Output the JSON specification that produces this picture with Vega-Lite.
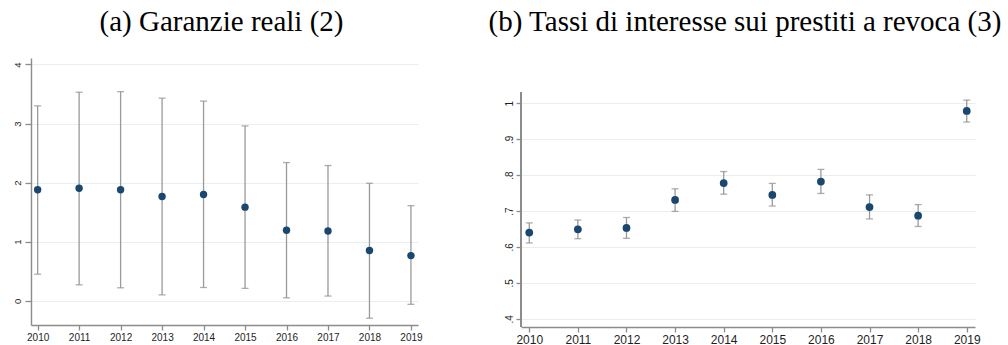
{
  "$schema": "https://vega.github.io/schema/vega-lite/v6.json",
  "background": "white",
  "padding": {"left": 12, "top": 8, "right": 5, "bottom": 0},
  "spacing": 65,
  "align": "each",
  "config": {
    "view": {"stroke": null},
    "title": {"font": "Liberation Serif", "fontSize": 29, "fontWeight": "normal", "color": "#000000", "baseline": "alphabetic", "anchor": "middle", "dx": -3},
    "axis": {
      "domainColor": "#8c8c8c", "domainWidth": 1.4,
      "tickColor": "#8c8c8c", "tickWidth": 1.3, "tickSize": 5,
      "labelColor": "#1e1e1e", "labelFont": "Liberation Sans",
      "grid": false
    }
  },
  "datasets": {
    "a": [
      {"year": 2010, "est": 1.88, "lo": 0.45, "hi": 3.30},
      {"year": 2011, "est": 1.905, "lo": 0.27, "hi": 3.53},
      {"year": 2012, "est": 1.88, "lo": 0.22, "hi": 3.54},
      {"year": 2013, "est": 1.765, "lo": 0.10, "hi": 3.43},
      {"year": 2014, "est": 1.80, "lo": 0.225, "hi": 3.38},
      {"year": 2015, "est": 1.585, "lo": 0.21, "hi": 2.96},
      {"year": 2016, "est": 1.195, "lo": 0.05, "hi": 2.34},
      {"year": 2017, "est": 1.18, "lo": 0.08, "hi": 2.29},
      {"year": 2018, "est": 0.85, "lo": -0.295, "hi": 1.99},
      {"year": 2019, "est": 0.765, "lo": -0.06, "hi": 1.61}
    ],
    "b": [
      {"year": 2010, "est": 0.640, "lo": 0.611, "hi": 0.667},
      {"year": 2011, "est": 0.649, "lo": 0.623, "hi": 0.675},
      {"year": 2012, "est": 0.653, "lo": 0.624, "hi": 0.682},
      {"year": 2013, "est": 0.731, "lo": 0.699, "hi": 0.762},
      {"year": 2014, "est": 0.778, "lo": 0.747, "hi": 0.810},
      {"year": 2015, "est": 0.745, "lo": 0.714, "hi": 0.777},
      {"year": 2016, "est": 0.782, "lo": 0.749, "hi": 0.816},
      {"year": 2017, "est": 0.711, "lo": 0.678, "hi": 0.745},
      {"year": 2018, "est": 0.687, "lo": 0.657, "hi": 0.718},
      {"year": 2019, "est": 0.979, "lo": 0.948, "hi": 1.009}
    ]
  },
  "hconcat": [
    {
      "width": 387, "height": 267,
      "title": {"text": "(a) Garanzie reali (2)", "offset": 21},
      "data": {"name": "a"},
      "encoding": {
        "x": {"field": "year", "type": "quantitative", "title": null,
              "scale": {"domain": [2009.84, 2019.17], "nice": false, "zero": false},
              "axis": {"values": [2010, 2011, 2012, 2013, 2014, 2015, 2016, 2017, 2018, 2019], "format": "d", "labelFontSize": 10, "labelPadding": 2}}
      },
      "layer": [
        {"mark": {"type": "rule", "color": "#9a9a9a", "strokeWidth": 1.3},
         "encoding": {
           "y": {"field": "lo", "type": "quantitative", "title": null,
                 "scale": {"domain": [-0.41, 4.11], "nice": false, "zero": false},
                 "axis": {"values": [0, 1, 2, 3, 4], "format": "d", "labelAngle": -90, "labelFontSize": 9.5, "labelPadding": 3, "tickSize": 6, "grid": true, "gridColor": "#e7eff1", "gridWidth": 1}},
           "y2": {"field": "hi"}}},
        {"mark": {"type": "tick", "orient": "horizontal", "size": 7, "thickness": 1.3, "color": "#8c8c8c"},
         "encoding": {"y": {"field": "lo", "type": "quantitative", "title": null}}},
        {"mark": {"type": "tick", "orient": "horizontal", "size": 7, "thickness": 1.3, "color": "#8c8c8c"},
         "encoding": {"y": {"field": "hi", "type": "quantitative", "title": null}}},
        {"mark": {"type": "point", "filled": true, "size": 55, "color": "#1a476f", "opacity": 1},
         "encoding": {"y": {"field": "est", "type": "quantitative", "title": null}}}
      ]
    },
    {
      "width": 454, "height": 269,
      "title": {"text": "(b) Tassi di interesse sui prestiti a revoca (3)", "offset": 21},
      "data": {"name": "b"},
      "encoding": {
        "x": {"field": "year", "type": "quantitative", "title": null,
              "scale": {"domain": [2009.83, 2019.17], "nice": false, "zero": false},
              "axis": {"values": [2010, 2011, 2012, 2013, 2014, 2015, 2016, 2017, 2018, 2019], "format": "d", "labelFontSize": 12, "labelPadding": 2}}
      },
      "layer": [
        {"mark": {"type": "rule", "color": "#9a9a9a", "strokeWidth": 1.3},
         "encoding": {
           "y": {"field": "lo", "type": "quantitative", "title": null,
                 "scale": {"domain": [0.377, 1.1263], "nice": false, "zero": false},
                 "axis": {"values": [0.4, 0.5, 0.6, 0.7, 0.8, 0.9, 1], "domain": false, "labelExpr": "datum.value >= 1 ? '1' : replace(format(datum.value, '.1f'), '0.', '.')", "labelAngle": -90, "labelFontSize": 10, "labelPadding": 2, "tickSize": 5, "grid": true, "gridColor": "#e7eff1", "gridWidth": 1}},
           "y2": {"field": "hi"}}},
        {"mark": {"type": "rule", "color": "#8c8c8c", "strokeWidth": 1.4},
         "encoding": {
           "x": {"datum": 2009.83, "type": "quantitative"},
           "y": {"datum": 0.377, "type": "quantitative"},
           "y2": {"datum": 1.031}}},
        {"mark": {"type": "tick", "orient": "horizontal", "size": 7, "thickness": 1.3, "color": "#8c8c8c"},
         "encoding": {"y": {"field": "lo", "type": "quantitative", "title": null}}},
        {"mark": {"type": "tick", "orient": "horizontal", "size": 7, "thickness": 1.3, "color": "#8c8c8c"},
         "encoding": {"y": {"field": "hi", "type": "quantitative", "title": null}}},
        {"mark": {"type": "point", "filled": true, "size": 60, "color": "#1a476f", "opacity": 1},
         "encoding": {"y": {"field": "est", "type": "quantitative", "title": null}}}
      ]
    }
  ]
}
